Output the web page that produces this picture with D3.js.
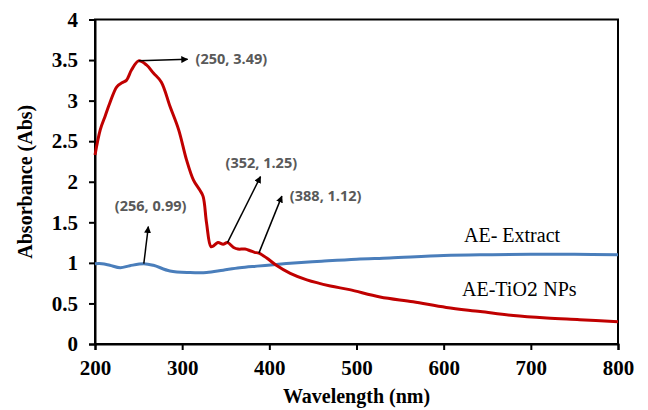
<!DOCTYPE html>
<html>
<head>
<meta charset="utf-8">
<script src="https://cdn.jsdelivr.net/npm/d3@7"></script>
<style>
  html, body { margin: 0; padding: 0; background: #fff; }
  svg { display: block; }
</style>
</head>
<body>
<svg id="chart" width="648" height="410"></svg>
<script>
// UV-Vis absorbance spectra
const xTicks = [200, 300, 400, 500, 600, 700, 800];
const yTicks = [0, 0.5, 1, 1.5, 2, 2.5, 3, 3.5, 4];
const yTickLabels = ["0", "0.5", "1", "1.5", "2", "2.5", "3", "3.5", "4"];

// AE-TiO2 NPs
const tio2Wavelength = [200, 206, 212, 217, 225, 231, 236, 242, 250, 259, 267, 276, 286, 296, 305, 313, 320, 324, 328, 333, 336, 341, 347, 352, 359, 364, 372, 378, 383, 388, 397, 408, 424, 443, 470, 492, 527, 565, 603, 642, 680, 718, 756, 800];
const tio2Absorbance = [2.33, 2.64, 2.82, 2.97, 3.17, 3.22, 3.25, 3.38, 3.49, 3.44, 3.34, 3.23, 2.93, 2.64, 2.27, 2.02, 1.90, 1.82, 1.49, 1.20, 1.21, 1.25, 1.23, 1.25, 1.19, 1.17, 1.17, 1.15, 1.13, 1.12, 1.06, 0.97, 0.87, 0.79, 0.715, 0.67, 0.58, 0.52, 0.45, 0.40, 0.35, 0.32, 0.30, 0.275];

// AE- Extract
const extractWavelength = [200, 208, 217, 229, 240, 256, 267, 286, 309, 328, 347, 366, 386, 408, 424, 460, 500, 538, 600, 650, 700, 750, 800];
const extractAbsorbance = [0.99, 0.99, 0.97, 0.94, 0.965, 0.99, 0.97, 0.90, 0.88, 0.88, 0.91, 0.94, 0.96, 0.98, 0.995, 1.02, 1.045, 1.06, 1.09, 1.10, 1.105, 1.105, 1.10];

// Peak call-outs
const calloutWavelength = [250, 352, 388, 256];
const calloutAbsorbance = [3.49, 1.25, 1.12, 0.99];

const seriesNames = ["AE- Extract", "AE-TiO"];

const svg = d3.select("#chart");
const margin = { left: 95, top: 19.5, right: 30, bottom: 66 };
const W = 648, H = 410;

const x = d3.scaleLinear().domain([200, 800]).range([margin.left, W - margin.right]);
const y = d3.scaleLinear().domain([0, 4]).range([H - margin.bottom, margin.top]);

const tickFont = "'Liberation Serif', 'Times New Roman', serif";

// frame
svg.append("rect")
  .attr("x", x(200)).attr("y", y(4))
  .attr("width", x(800) - x(200)).attr("height", y(0) - y(4))
  .attr("fill", "none").attr("stroke", "#000").attr("stroke-width", 2);

// axes
const xAxis = svg.append("g")
  .attr("transform", `translate(0,${y(0)})`)
  .call(d3.axisBottom(x).tickValues(xTicks).tickSize(6).tickPadding(10).tickFormat(d3.format("d")));
const yAxis = svg.append("g")
  .attr("transform", `translate(${x(200)},0)`)
  .call(d3.axisLeft(y).tickValues(yTicks).tickSize(6).tickPadding(11).tickFormat((d, i) => yTickLabels[i]));

[xAxis, yAxis].forEach(g => {
  g.select(".domain").attr("stroke", "#000").attr("stroke-width", 2);
  g.selectAll(".tick line").attr("stroke", "#000").attr("stroke-width", 2);
  g.selectAll(".tick text")
    .attr("fill", "#000")
    .style("font-family", tickFont)
    .style("font-weight", "bold")
    .style("font-size", "21px");
});

// axis titles
svg.append("text")
  .attr("x", (x(200) + x(800)) / 2).attr("y", 403)
  .attr("text-anchor", "middle")
  .style("font-family", tickFont).style("font-weight", "bold").style("font-size", "20px")
  .text("Wavelength (nm)");
svg.append("text")
  .attr("transform", `translate(32,${(y(0) + y(4)) / 2}) rotate(-90)`)
  .attr("text-anchor", "middle")
  .style("font-family", tickFont).style("font-weight", "bold").style("font-size", "20px")
  .text("Absorbance (Abs)");

// spectra
const line = d3.line()
  .x(d => x(d[0])).y(d => y(d[1]))
  .curve(d3.curveCatmullRom.alpha(0.5));

const extract = extractWavelength.map((w, i) => [w, extractAbsorbance[i]]);
const tio2 = tio2Wavelength.map((w, i) => [w, tio2Absorbance[i]]);

svg.append("path").datum(extract)
  .attr("d", line).attr("fill", "none")
  .attr("stroke", "#4A7EBB").attr("stroke-width", 3).attr("stroke-linejoin", "round");
svg.append("path").datum(tio2)
  .attr("d", line).attr("fill", "none")
  .attr("stroke", "#C00000").attr("stroke-width", 3).attr("stroke-linejoin", "round");

// series labels
svg.append("text")
  .attr("x", 464).attr("y", 242)
  .style("font-family", tickFont).style("font-size", "20px")
  .text(seriesNames[0]);
const t2 = svg.append("text")
  .attr("x", 462).attr("y", 296)
  .style("font-family", tickFont).style("font-size", "20px");
t2.append("tspan").text(seriesNames[1]);
t2.append("tspan").style("font-family", "'DejaVu Serif', serif").style("font-size", "18px").text("2");
t2.append("tspan").text(" NPs");

// call-out arrows and labels
svg.append("defs").append("marker")
  .attr("id", "head")
  .attr("viewBox", "0 0 10 10")
  .attr("refX", 9).attr("refY", 5)
  .attr("markerWidth", 7).attr("markerHeight", 7)
  .attr("markerUnits", "userSpaceOnUse")
  .attr("orient", "auto")
  .append("path").attr("d", "M0,0 L10,5 L0,10 Z").attr("fill", "#000");

// arrow head offsets and label offsets relative to the marked point
const arrowDx = [49, 33, 23, 4.5];
const arrowDy = [-1.5, -66, -57, -37];
const labelDx = [57, -2, 31, -29];
const labelDy = [-2, -80, -58, -58];

calloutWavelength.forEach((w, i) => {
  const v = calloutAbsorbance[i];
  const px = x(w), py = y(v);
  svg.append("line")
    .attr("x1", px).attr("y1", py)
    .attr("x2", px + arrowDx[i]).attr("y2", py + arrowDy[i])
    .attr("stroke", "#000").attr("stroke-width", 1.5)
    .attr("marker-end", "url(#head)");
  svg.append("text")
    .attr("x", px + labelDx[i]).attr("y", py + labelDy[i])
    .attr("dominant-baseline", "central")
    .attr("fill", "#595959")
    .style("font-family", "'Open Sans', sans-serif")
    .style("font-weight", "bold")
    .style("font-size", "14.5px")
    .text(`(${w}, ${v.toFixed(2)})`);
});
</script>
</body>
</html>
